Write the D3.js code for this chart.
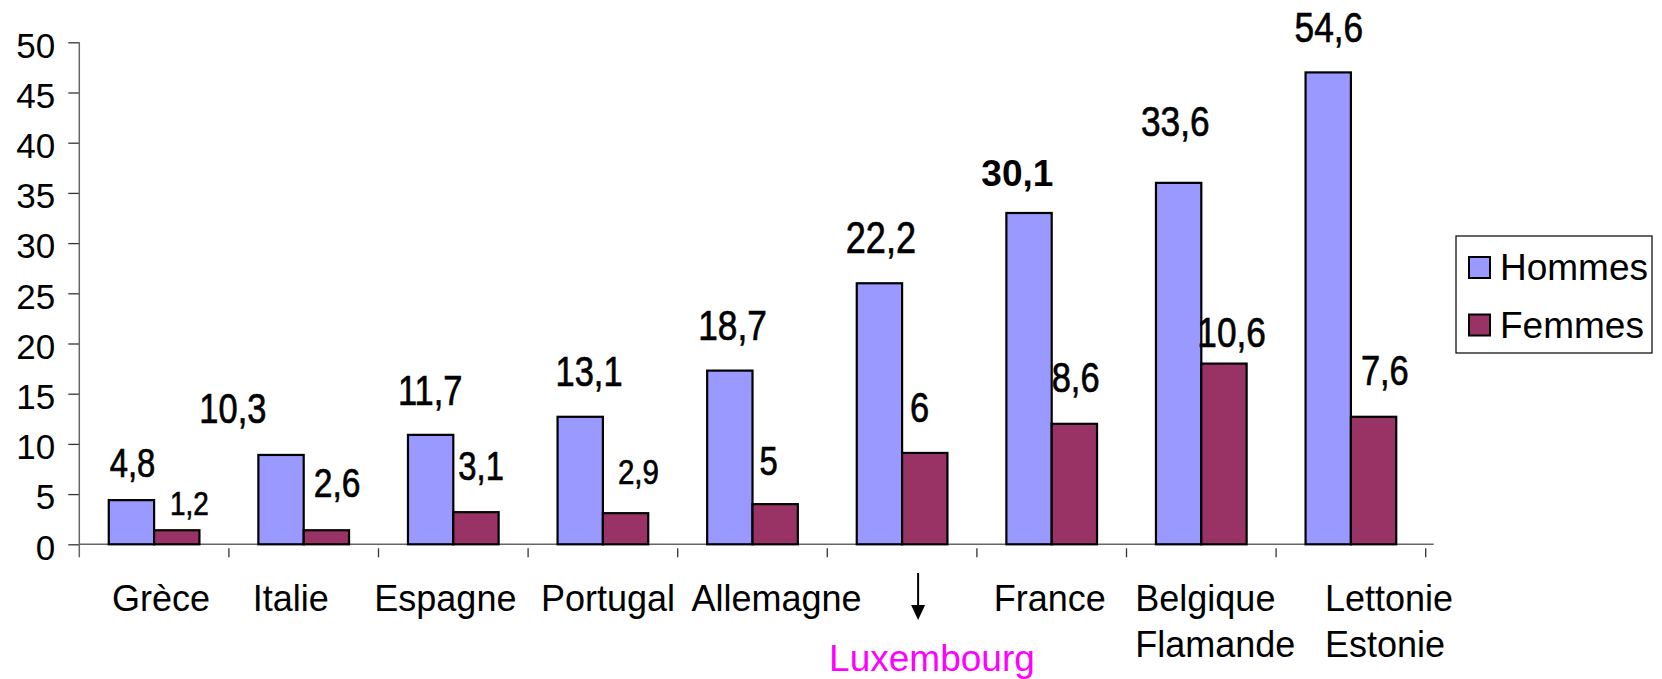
<!DOCTYPE html>
<html lang="fr">
<head>
  <meta charset="UTF-8">
  <title>Hommes / Femmes</title>
  <script src="https://d3js.org/d3.v7.min.js"></script>
  <style>
    body { margin: 0; background: #fff; }
    svg { display: block; }
    text { font-family: "Liberation Sans", Arial, sans-serif; fill: #000; }
  </style>
</head>
<body>
<svg width="1662" height="679"></svg>
<script>
// données
const categories = ["Grèce", "Italie", "Espagne", "Portugal", "Allemagne", "Luxembourg", "France", "Belgique Flamande", "Lettonie Estonie"];
const series = ["Hommes", "Femmes"];
const hommes = [4.4, 8.9, 10.9, 12.7, 17.3, 26.0, 33.0, 36.0, 47.0];
const femmes = [1.4, 1.4, 3.2, 3.1, 4.0, 9.1, 12.0, 18.0, 12.7];
const hommesLabels = ["4,8", "10,3", "11,7", "13,1", "18,7", "22,2", "30,1", "33,6", "54,6"];
const femmesLabels = ["1,2", "2,6", "3,1", "2,9", "5", "6", "8,6", "10,6", "7,6"];
const yTicks = [0, 5, 10, 15, 20, 25, 30, 35, 40, 45, 50];

// mise en page des étiquettes (décalage depuis le coin haut-gauche de la barre, taille)
const hommesLabelPos = [[1, -22, 40], [-59, -31, 42], [-10, -29, 42], [-2, -30, 42], [-9, -30, 43],
                        [-11, -29, 44], [-25, -26, 37], [-15, -46, 43], [-11, -29, 43]];
const femmesLabelPos = [[16, -14, 34], [10, -32, 41], [5, -31, 40], [15, -28, 36], [7, -28, 40],
                        [8, -30, 42], [0, -31, 42], [-4, -16, 43], [10, -31, 42]];
// position des noms de pays (décalage depuis le centre de la catégorie)
const catLabelDx = [-41, -50, -78, -61, -60, 0, -57, -65, -25];

const colors = { Hommes: "#9999ff", Femmes: "#993366" };

const svg = d3.select("svg");

const y = d3.scaleLinear().domain([0, 50]).range([544.3, 42.3]);
const x0 = d3.scaleBand().domain(categories).range([79.3, 1425.7]);
const x1 = d3.scaleBand().domain(series).range([0, x0.bandwidth()]).paddingOuter(0.65);

const rows = categories.map((c, i) => ({
  cat: c, i,
  values: [
    { s: "Hommes", v: hommes[i], label: hommesLabels[i], pos: hommesLabelPos[i], bold: i === 6 },
    { s: "Femmes", v: femmes[i], label: femmesLabels[i], pos: femmesLabelPos[i], bold: false }
  ]
}));

// axe Y
const yAxis = svg.append("g")
  .attr("transform", "translate(79.3,0)")
  .call(d3.axisLeft(y).tickValues(yTicks).tickSize(11).tickSizeOuter(0).tickPadding(13));
yAxis.select(".domain").remove();
yAxis.selectAll(".tick line").attr("stroke", "#333").attr("stroke-width", 1.3);
yAxis.selectAll(".tick text")
  .attr("dy", "0.42em")
  .style("font-size", "35px")
  .style("font-family", "'Liberation Sans', Arial, sans-serif");

svg.append("line")
  .attr("x1", 79.3).attr("x2", 79.3)
  .attr("y1", y(50)).attr("y2", y(0) + 13)
  .attr("stroke", "#666").attr("stroke-width", 1.5);

// axe X
svg.append("line")
  .attr("x1", 79.3).attr("x2", x0.range()[1] + 8)
  .attr("y1", y(0)).attr("y2", y(0))
  .attr("stroke", "#666").attr("stroke-width", 1.5);

svg.append("g").selectAll("line")
  .data(categories)
  .join("line")
  .attr("x1", d => x0(d) + x0.step())
  .attr("x2", d => x0(d) + x0.step())
  .attr("y1", y(0) + 4).attr("y2", y(0) + 13)
  .attr("stroke", "#333").attr("stroke-width", 1.3);

// barres
const groups = svg.append("g").selectAll("g")
  .data(rows)
  .join("g")
  .attr("transform", d => `translate(${x0(d.cat)},0)`);

groups.selectAll("rect")
  .data(d => d.values)
  .join("rect")
  .attr("x", d => x1(d.s))
  .attr("y", d => y(d.v))
  .attr("width", x1.bandwidth())
  .attr("height", d => y(0) - y(d.v))
  .attr("fill", d => colors[d.s])
  .attr("stroke", "#000")
  .attr("stroke-width", 2.2);

// étiquettes de valeurs (police étroite, un peu grasse)
groups.selectAll("g.lbl")
  .data(d => d.values)
  .join("g")
  .attr("class", "lbl")
  .attr("transform", d => {
    const tx = x1(d.s) + d.pos[0];
    const ty = y(d.v) - 1 + d.pos[1];
    return d.bold ? `translate(${tx},${ty})` : `translate(${tx},${ty}) scale(0.82,1)`;
  })
  .append("text")
  .text(d => d.label)
  .style("font-size", d => d.pos[2] + "px")
  .style("font-weight", d => d.bold ? "bold" : "normal")
  .style("stroke", d => d.bold ? "none" : "#000")
  .style("stroke-width", "0.7px");

// noms des pays
const catLabels = svg.append("g").selectAll("g")
  .data(categories)
  .join("g")
  .attr("transform", (d, i) => `translate(${x0(d) + x0.bandwidth() / 2 + catLabelDx[i]},0)`);

catLabels.each(function (d, i) {
  const g = d3.select(this);
  if (d === "Luxembourg") {
    g.append("line")
      .attr("x1", 16).attr("x2", 16)
      .attr("y1", 573).attr("y2", 608)
      .attr("stroke", "#000").attr("stroke-width", 2);
    g.append("path")
      .attr("d", "M9,605 L23,605 L16,620 Z")
      .attr("fill", "#000");
    g.append("text")
      .attr("x", -73).attr("y", 671)
      .style("font-size", "37px")
      .style("fill", "#ff00ff")
      .text(d);
  } else {
    const words = d.split(" ");
    g.selectAll("text")
      .data(words)
      .join("text")
      .attr("x", -1)
      .attr("y", (w, k) => 611 + k * 46)
      .style("font-size", "36px")
      .text(w => w);
  }
});

// légende
const legend = svg.append("g").attr("transform", "translate(1456,236)");
legend.append("rect")
  .attr("width", 196).attr("height", 117)
  .attr("fill", "#fff").attr("stroke", "#000").attr("stroke-width", 1.2);
const items = legend.selectAll("g")
  .data(series)
  .join("g")
  .attr("transform", (d, i) => `translate(13,${21 + i * 57.5})`);
items.append("rect")
  .attr("width", 21).attr("height", 21)
  .attr("fill", d => colors[d])
  .attr("stroke", "#000").attr("stroke-width", 2);
items.append("text")
  .attr("x", 31).attr("y", 23)
  .style("font-size", "37px")
  .text(d => d);
</script>
</body>
</html>
